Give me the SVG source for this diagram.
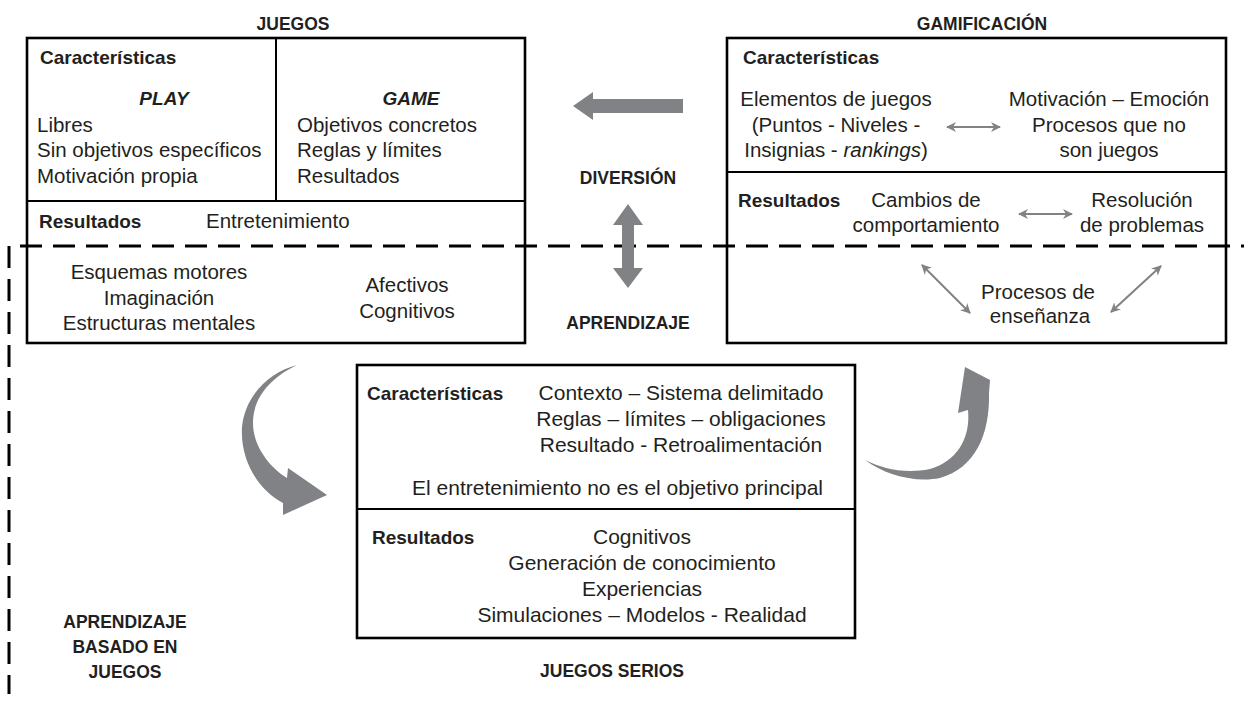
<svg xmlns="http://www.w3.org/2000/svg" width="1244" height="701" viewBox="0 0 1244 701">
<style>
text{font-family:"Liberation Sans",Arial,sans-serif;fill:#231f20}
.t{font-size:20.5px}
.tb{font-size:21px}
.b{font-size:19px;font-weight:bold}
.h{font-size:17.5px;font-weight:bold}
.c{text-anchor:middle}
.e{text-anchor:end}
.box{fill:#fff;stroke:#000;stroke-width:2.6}
.div{stroke:#000;stroke-width:2;fill:none}
.dash{stroke:#000;stroke-width:3;fill:none;stroke-dasharray:22 11}
.big{fill:#808285}
.thin{stroke:#808285;stroke-width:2;fill:none;marker-start:url(#ah);marker-end:url(#ah)}
</style>
<defs>
<marker id="ah" viewBox="0 0 10 10" refX="9" refY="5" markerWidth="5" markerHeight="5" orient="auto-start-reverse" markerUnits="strokeWidth">
<path d="M0,0 L10,5 L0,10 L3,5 z" fill="#808285"/>
</marker>
</defs>
<rect width="1244" height="701" fill="#fff"/>

<g id="node-juegos">
<rect class="box" x="27" y="38" width="498" height="305"/>
<line class="div" x1="276" y1="38" x2="276" y2="201"/>
<line class="div" x1="27" y1="201" x2="525" y2="201"/>
<text class="h c" x="293" y="30">JUEGOS</text>
<text class="b" x="40" y="64">Características</text>
<text class="b c" x="164" y="105" font-style="italic">PLAY</text>
<text class="t" x="37" y="132">Libres</text>
<text class="t" x="37" y="157">Sin objetivos específicos</text>
<text class="t" x="37" y="183">Motivación propia</text>
<text class="b c" x="411" y="105" font-style="italic">GAME</text>
<text class="t" x="297" y="132">Objetivos concretos</text>
<text class="t" x="297" y="157">Reglas y límites</text>
<text class="t" x="297" y="183">Resultados</text>
<text class="b" x="39" y="228">Resultados</text>
<text class="t" x="206" y="228">Entretenimiento</text>
<text class="t c" x="159" y="279">Esquemas motores</text>
<text class="t c" x="159" y="305">Imaginación</text>
<text class="t c" x="159" y="330">Estructuras mentales</text>
<text class="t c" x="407" y="292">Afectivos</text>
<text class="t c" x="407" y="318">Cognitivos</text>
</g>

<g id="node-gamificacion">
<rect class="box" x="727" y="38" width="499" height="305"/>
<line class="div" x1="727" y1="172" x2="1226" y2="172"/>
<text class="h c" x="982" y="30">GAMIFICACIÓN</text>
<text class="b" x="743" y="64">Características</text>
<text class="t c" x="836" y="106">Elementos de juegos</text>
<text class="t c" x="836" y="132">(Puntos - Niveles -</text>
<text class="t c" x="836" y="157">Insignias - <tspan font-style="italic">rankings</tspan>)</text>
<text class="t c" x="1109" y="106">Motivación – Emoción</text>
<text class="t c" x="1109" y="132">Procesos que no</text>
<text class="t c" x="1109" y="157">son juegos</text>
<text class="b" x="738" y="207">Resultados</text>
<text class="t c" x="926" y="207">Cambios de</text>
<text class="t c" x="926" y="232">comportamiento</text>
<text class="t c" x="1142" y="207">Resolución</text>
<text class="t c" x="1142" y="232">de problemas</text>
<text class="t c" x="1038" y="299">Procesos de</text>
<text class="t c" x="1040" y="323">enseñanza</text>
</g>

<g id="node-juegos-serios">
<rect class="box" x="357" y="365" width="498" height="273"/>
<line class="div" x1="357" y1="509" x2="855" y2="509"/>
<text class="b" x="367" y="400">Características</text>
<text class="tb c" x="681" y="400">Contexto – Sistema delimitado</text>
<text class="tb c" x="681" y="426">Reglas – límites – obligaciones</text>
<text class="tb c" x="681" y="452">Resultado - Retroalimentación</text>
<text class="tb e" x="823" y="495">El entretenimiento no es el objetivo principal</text>
<text class="b" x="372" y="544">Resultados</text>
<text class="tb c" x="642" y="544">Cognitivos</text>
<text class="tb c" x="642" y="570">Generación de conocimiento</text>
<text class="tb c" x="642" y="596">Experiencias</text>
<text class="tb c" x="642" y="622">Simulaciones – Modelos - Realidad</text>
<text class="h c" x="612" y="677">JUEGOS SERIOS</text>
</g>

<g id="label-diversion">
<text class="h c" x="628" y="184">DIVERSIÓN</text>
</g>
<g id="label-aprendizaje">
<text class="h c" x="628" y="329">APRENDIZAJE</text>
</g>
<g id="label-abj">
<text class="h c" x="125" y="628">APRENDIZAJE</text>
<text class="h c" x="125" y="653">BASADO EN</text>
<text class="h c" x="125" y="678">JUEGOS</text>
</g>

<g id="connectors">
<line class="dash" x1="20" y1="246" x2="1244" y2="246"/>
<line class="dash" x1="9" y1="246" x2="9" y2="694"/>
<path class="big" d="M573,106 L593,92 L593,99 L683,99 L683,113 L593,113 L593,120 Z"/>
<path class="big" d="M628,204 L643,225 L634,225 L634,268 L643,268 L628,288 L613,268 L622,268 L622,225 L613,225 Z"/>
<path class="big" d="M297,365 C270,372 245,395 242,427 C240,460 258,490 283,503 L283,515 L327,495 L288,468 L287,478 C268,466 253,445 253,423 C253,398 270,378 297,365 Z"/>
<path class="big" d="M865,460 C885,475 915,483 940,478 C975,468 990,435 989,393 L990,380 L965,367 L958,413 L968,410 C971,440 955,462 930,469 C905,474 883,469 865,460 Z"/>
<line class="thin" x1="947" y1="127" x2="1000" y2="127"/>
<line class="thin" x1="1019" y1="214" x2="1072" y2="214"/>
<line class="thin" x1="922" y1="265" x2="970" y2="313"/>
<line class="thin" x1="1161" y1="266" x2="1111" y2="312"/>
</g>
</svg>
